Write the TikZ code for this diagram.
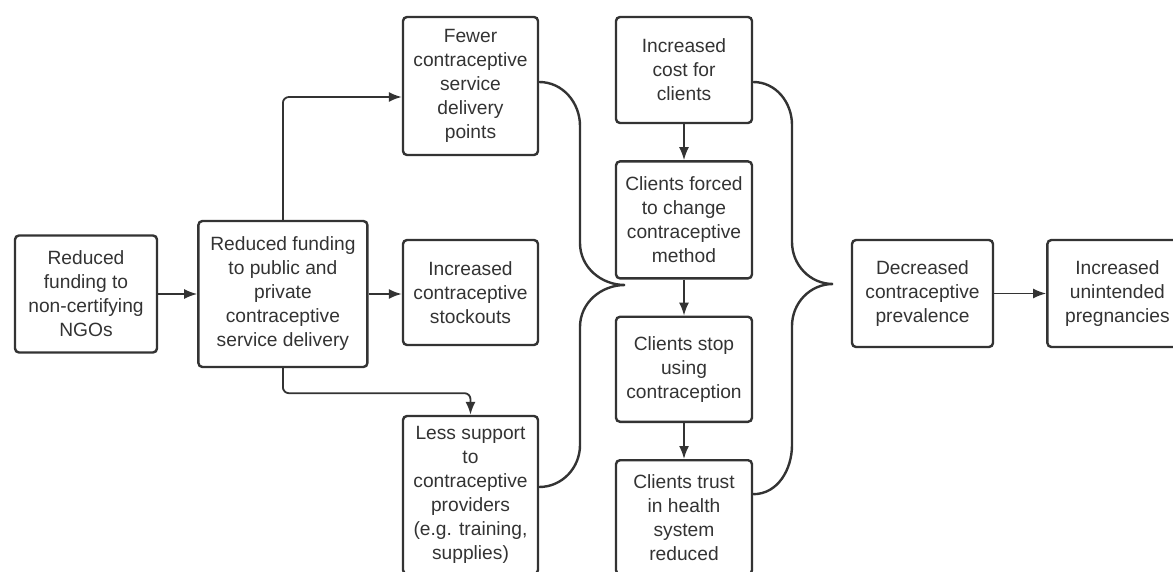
\documentclass[tikz,border=0pt]{standalone}
\usepackage{fontspec}
\setmainfont{Liberation Sans}
\usetikzlibrary{arrows.meta, positioning}

\begin{document}
\begin{tikzpicture}[x=0.5pt, y=-0.5pt, >={Latex[length=6.5pt,width=5pt]},
	box/.style={draw=black!80, line width=1.2pt, rounded corners=2pt, align=center, inner sep=0pt, text=black!80, font=\fontsize{9.6}{12}\selectfont, minimum width=68pt},
	link/.style={->, draw=black!80, line width=0.9pt, rounded corners=3pt},
	brace/.style={draw=black!80, line width=1.2pt}]
	
	\useasboundingbox (0,0) rectangle (1173,572);
	
	% Boxes
	\node[box, minimum width=71pt, minimum height=58.5pt] (B0) at (86,294) {Reduced\\funding to\\non-certifying\\NGOs};
	\node[box, right=19.5pt of B0, minimum width=84.5pt, minimum height=73pt] (B1) {Reduced funding\\to public and\\private\\contraceptive\\service delivery};
	\node[box, minimum width=67.5pt, minimum height=69pt] (B2) at (470.5,86) {Fewer\\contraceptive\\service\\delivery\\points};
	\node[box, minimum width=67.5pt, minimum height=52.5pt] (B3) at (470.5,292.5) {Increased\\contraceptive\\stockouts};
	\node[box, minimum width=67.5pt, minimum height=79pt] (B4) at (470.5,495) {Less support\\to\\contraceptive\\providers\\(e.g. training,\\supplies)};
	\node[box, minimum height=53pt] (B5) at (684,70) {Increased\\cost for\\clients};
	\node[box, below=18pt of B5, minimum height=58.5pt] (B6) {Clients forced\\to change\\contraceptive\\method};
	\node[box, below=18pt of B6, minimum height=52.5pt] (B7) {Clients stop\\using\\contraception};
	\node[box, below=18pt of B7, minimum height=57pt] (B8) {Clients trust\\in health\\system\\reduced};
	\node[box, minimum width=70.5pt, minimum height=53.5pt] (B9) at (922.5,293.5) {Decreased\\contraceptive\\prevalence};
	\node[box, right=26pt of B9, minimum width=70pt, minimum height=53.5pt] (B10) {Increased\\unintended\\pregnancies};
	
	% Arrows
	\draw[link] (B0) -- (B1);
	\draw[link] (B1.north) |- ([yshift=-5.5pt]B2.west);
	\draw[link] (B1.east) -- (B1.east -| B3.west);
	\draw[link] (B1.south) -- ++(0,25) -| (B4.north);
	\draw[link] (B5) -- (B6);
	\draw[link] (B6) -- (B7);
	\draw[link] (B7) -- (B8);
	\draw[link] (B9) -- (B10);
	
	% Braces
	\coordinate (T1) at (625,285);
	\coordinate (T2) at (833,284);
	\draw[brace] ([yshift=2pt]B2.east) to[out=0,in=90] (580,126) -- (580,243) to[out=-90,in=180] (T1)
		to[out=180,in=90] (580,327) -- (580,445) to[out=-90,in=0] ([yshift=4pt]B4.east);
	\draw[brace] ([yshift=-6pt]B5.east) to[out=0,in=90] (792,125) -- (792,242) to[out=-90,in=180] (T2)
		to[out=180,in=90] (792,326) -- (792,445) to[out=-90,in=0] ([yshift=11.5pt]B8.east);
	
\end{tikzpicture}
\end{document}
